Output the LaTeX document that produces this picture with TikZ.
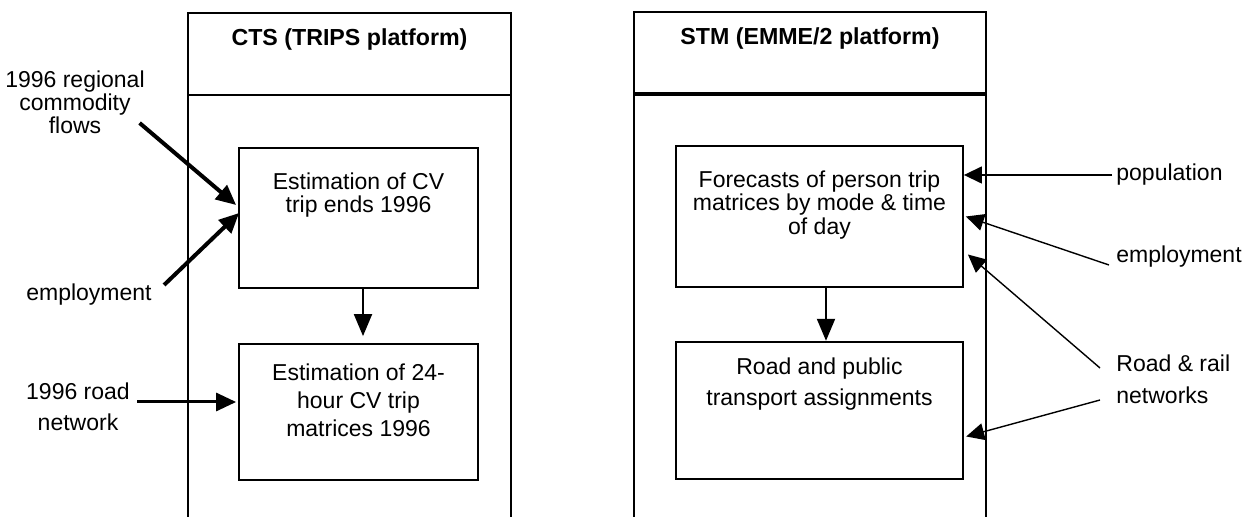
\documentclass[tikz,border=0pt]{standalone}
\usepackage{fontspec}
\setmainfont{Liberation Sans}
\usetikzlibrary{arrows.meta, positioning}

\begin{document}
\begin{tikzpicture}[x=0.5pt, y=-0.5pt,
    frame/.style={line width=1pt},
    procbox/.style={draw, line width=0.9pt, minimum width=119.5pt, minimum height=70pt, inner sep=0pt},
    boxtext/.style={align=center, inner sep=0pt, font=\fontsize{11.5}{11.5}\selectfont},
    title/.style={font=\fontsize{11.6}{13}\selectfont\bfseries},
    lbl/.style={align=center, inner sep=2pt, font=\fontsize{11.5}{11.5}\selectfont},
    bigarrow/.style={line width=2pt, -{Triangle[length=10pt,width=9pt]}},
    thinarrow/.style={line width=0.7pt, -{Triangle[length=9pt,width=8.5pt]}}]
  \useasboundingbox (0,0) rectangle (1252,517);

  % CTS frame
  \draw[frame] (188,517) |- (511,13) -- (511,517);
  \draw[frame] (188,95) -- (511,95);
  \node[title] (ctsTitle) at (349.5,40) {CTS (TRIPS platform)};

  % STM frame
  \draw[frame, line width=1.3pt] (634,517) |- (986,12) -- (986,517);
  \draw[line width=2pt] (634,94) -- (986,94);
  \node[title] (stmTitle) at (810,39) {STM (EMME/2 platform)};

  % process boxes
  \node[procbox] (ctsA) at (358.5,218) {};
  \node[procbox, minimum height=68pt] (ctsB) at (358.5,412) {};
  \node[procbox, minimum width=143.5pt, minimum height=70.5pt] (stmA) at (819.5,216.5) {};
  \node[procbox, line width=1.2pt, minimum width=143.5pt, minimum height=68.5pt] (stmB) at (819.5,410.5) {};

  \node[boxtext, below=12.5pt of ctsA.north] (ctsAtext) {Estimation of CV\\trip ends 1996};
  \node[boxtext, below=10pt of ctsB.north, font=\fontsize{11.5}{14}\selectfont] (ctsBtext) {Estimation of 24-\\hour CV trip\\matrices 1996};
  \node[boxtext, below=12.5pt of stmA.north, font=\fontsize{11.5}{10.5}\selectfont] (stmAtext) {Forecasts of person trip\\matrices by mode \& time\\of day};
  \node[boxtext, below=8.5pt of stmB.north, font=\fontsize{11.5}{15.5}\selectfont] (stmBtext) {Road and public\\transport assignments};

  % inputs
  \node[lbl] (flows) at (75,102) {1996 regional\\commodity\\flows};
  \node[lbl] (emplL) at (89,295) {employment};
  \node[lbl, font=\fontsize{11.5}{15.5}\selectfont] (road) at (78,407) {1996 road\\network};
  \node[lbl, anchor=west] (pop) at (1112,175) {population};
  \node[lbl, anchor=west] (emplR) at (1112,257) {employment};
  \node[lbl, anchor=west, align=left, font=\fontsize{11.5}{16}\selectfont] (rail) at (1112,379) {Road \& rail\\networks};

  % connectors
  \draw[bigarrow] ([xshift=-4.75pt,yshift=-10.5pt]flows.east) -- ([xshift=-1pt,yshift=6.5pt]ctsA.west);
  \draw[bigarrow] ([xshift=4pt,yshift=5pt]emplL.east) -- ([xshift=0.5pt,yshift=2.5pt]ctsA.west);
  \draw[bigarrow, line width=1.5pt] ([xshift=1.5pt,yshift=2.5pt]road.east) -- ([xshift=-1pt,yshift=5pt]ctsB.west);
  \draw[bigarrow, line width=1pt, -{Triangle[length=11pt,width=9pt]}] ([xshift=2.25pt]ctsA.south) -- ([xshift=2.25pt,yshift=3.5pt]ctsB.north);
  \draw[bigarrow, line width=1pt, -{Triangle[length=11pt,width=9pt]}] ([xshift=3.25pt]stmA.south) -- ([xshift=3.25pt]stmB.north);

  \draw[thinarrow] (pop.west) -- ([yshift=20.75pt]stmA.east);
  \draw[thinarrow] ([xshift=-1.5pt,yshift=-4pt]emplR.west) -- ([xshift=1pt]stmA.east);
  \draw[thinarrow] ([xshift=-6pt,yshift=5.5pt]rail.west) -- ([xshift=2pt,yshift=-19pt]stmA.east);
  \draw[thinarrow] ([xshift=-6pt,yshift=-10.5pt]rail.west) -- ([xshift=1pt,yshift=-13pt]stmB.east);
\end{tikzpicture}
\end{document}
